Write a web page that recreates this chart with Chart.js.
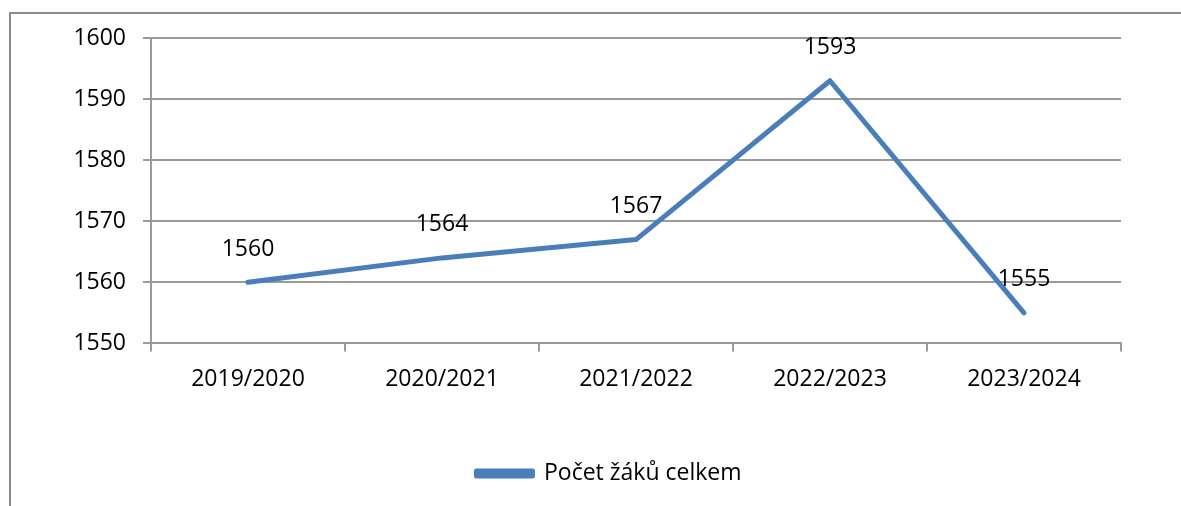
<!DOCTYPE html>
<html>
<head>
<meta charset="utf-8">
<script src="https://cdn.jsdelivr.net/npm/chart.js@4"></script>
<style>
  body { margin: 0; background: #fff; }
  #wrap { position: relative; width: 1181px; height: 506px; }
  #frame { position: absolute; left: 9px; top: 12px; right: 0; bottom: 0;
           border-top: 2px solid #8c8c8c; border-left: 2px solid #8c8c8c; }
  canvas { position: absolute; left: 0; top: 0; }
</style>
</head>
<body>
<div id="wrap">
  <div id="frame"></div>
  <canvas id="myChart" width="1181" height="506"></canvas>
</div>
<script>
const years = ["2019/2020", "2020/2021", "2021/2022", "2022/2023", "2023/2024"];
const pupils = [1560, 1564, 1567, 1593, 1555];
const seriesName = "Počet žáků celkem";
const blue = "#4a7ebb";
const gridGray = "#9a9a9a";
const font = "'Open Sans', sans-serif";
const fontSize = 23;

// numbers above each point
const valueLabels = {
  id: "valueLabels",
  beforeDraw(chart) {
    // legend sits a bit right of the plot centre in the original
    chart.legend.left = 64;
    chart.legend.right = 1154;
  },
  afterDatasetsDraw(chart) {
    const ctx = chart.ctx;
    const meta = chart.getDatasetMeta(0);
    ctx.save();
    ctx.font = fontSize + "px " + font;
    ctx.fillStyle = "#000";
    ctx.textAlign = "center";
    ctx.textBaseline = "middle";
    meta.data.forEach((pt, i) => {
      ctx.fillText(String(pupils[i]), pt.x, pt.y - 33);
    });
    ctx.restore();
  },
};

const data = {
  labels: years,
  datasets: [
    {
      label: seriesName,
      data: pupils,
      borderColor: blue,
      backgroundColor: blue,
      borderWidth: 5,
      pointRadius: 0,
      borderCapStyle: "round",
      borderJoinStyle: "round",
    },
  ],
};

const config = {
  type: "line",
  data: data,
  plugins: [valueLabels],
  options: {
    responsive: false,
    animation: false,
    layout: { padding: { left: 0, right: 60, top: 38, bottom: 11 } },
    plugins: {
      tooltip: { enabled: false },
      legend: {
        position: "bottom",
        labels: {
          boxWidth: 56,
          boxHeight: 5,
          padding: 6,
          color: "#000",
          font: { family: font, size: fontSize },
        },
      },
    },
    scales: {
      x: {
        offset: true,
        grid: {
          offset: true,
          drawOnChartArea: false,
          drawTicks: true,
          tickLength: 8,
          color: gridGray,
          lineWidth: 2,
        },
        border: { color: gridGray, width: 2 },
        ticks: { color: "#000", padding: 14, font: { family: font, size: fontSize } },
        afterFit: (s) => { s.height += 49; },
      },
      y: {
        min: 1550,
        max: 1600,
        ticks: {
          stepSize: 10,
          color: "#000",
          padding: 17,
          font: { family: font, size: fontSize },
          callback: (v) => String(v),
        },
        grid: { color: gridGray, lineWidth: 2, tickLength: 8 },
        border: { color: gridGray, width: 2 },
        afterFit: (s) => { s.width = 151; },
      },
    },
  },
};

var myChart = new Chart(document.getElementById("myChart"), config);
</script>
</body>
</html>
